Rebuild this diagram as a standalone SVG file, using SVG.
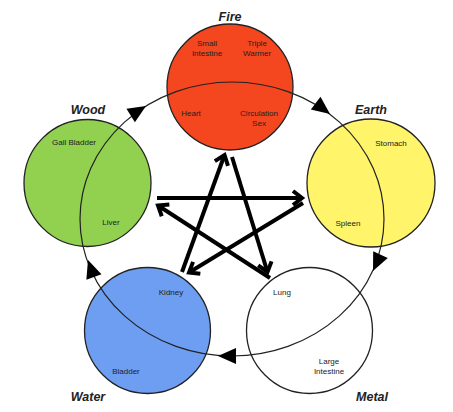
<svg xmlns="http://www.w3.org/2000/svg" width="453" height="412" viewBox="0 0 453 412">
<defs>
<style>
.node{stroke:#222;stroke-width:1.3}
.t{font-family:"Liberation Sans",Arial,sans-serif;font-size:8px;fill:#222;text-anchor:middle}
.e{font-family:"Liberation Sans",Arial,sans-serif;font-size:12.5px;font-weight:bold;font-style:italic;fill:#222;text-anchor:middle}
.star{stroke:#000;stroke-width:4;fill:none}
.cycle{stroke:#222;stroke-width:1.2;fill:none}
.head{fill:#000}
</style>
<marker id="chev" markerUnits="userSpaceOnUse" markerWidth="30" markerHeight="30" refX="0" refY="0" viewBox="-15 -15 30 30" orient="auto" overflow="visible">
<path d="M-9,-7 L0,0 L-9,7" stroke="#000" stroke-width="4" fill="none" stroke-linejoin="miter"/>
</marker>
</defs>
<rect width="453" height="412" fill="#fff"/>

<g id="fire">
<circle class="node" cx="230" cy="87" r="63" fill="#F4471F"/>
<text class="e" x="230" y="20.5">Fire</text>
<text class="t" x="207" y="46">Small</text>
<text class="t" x="207" y="56">Intestine</text>
<text class="t" x="257" y="46">Triple</text>
<text class="t" x="257" y="56">Warmer</text>
<text class="t" x="191" y="116">Heart</text>
<text class="t" x="259" y="116">Circulation</text>
<text class="t" x="259" y="126">Sex</text>
</g>
<g id="wood">
<circle class="node" cx="87.5" cy="183" r="63.5" fill="#92D050"/>
<text class="e" x="88" y="113.5">Wood</text>
<text class="t" x="74" y="145">Gall Bladder</text>
<text class="t" x="111" y="225">Liver</text>
</g>
<g id="earth">
<circle class="node" cx="371" cy="183" r="64" fill="#FFF46A"/>
<text class="e" x="371" y="113.5">Earth</text>
<text class="t" x="391" y="146">Stomach</text>
<text class="t" x="348" y="226">Spleen</text>
</g>
<g id="water">
<circle class="node" cx="147.5" cy="330.5" r="63" fill="#6D9EF2"/>
<text class="e" x="88" y="400.5">Water</text>
<text class="t" x="171" y="295">Kidney</text>
<text class="t" x="126" y="374">Bladder</text>
</g>
<g id="metal">
<circle class="node" cx="309.5" cy="330.5" r="63" fill="#fff" stroke="#444"/>
<text class="e" x="372" y="400.5">Metal</text>
<text class="t" x="282" y="295">Lung</text>
<text class="t" x="329" y="364">Large</text>
<text class="t" x="329" y="374">Intestine</text>
</g>

<g id="connectors">
<ellipse class="cycle" cx="232" cy="219" rx="152" ry="137"/>
<polygon class="head" points="0,0 -18,-8 -18,8" transform="translate(146,106) rotate(-31.8)"/>
<polygon class="head" points="0,0 -18,-8 -18,8" transform="translate(330,114) rotate(37.2)"/>
<polygon class="head" points="0,0 -18,-8 -18,8" transform="translate(373,271) rotate(114.5)"/>
<polygon class="head" points="0,0 -18,-8 -18,8" transform="translate(218,356) rotate(180)"/>
<polygon class="head" points="0,0 -18,-8 -18,8" transform="translate(88,260) rotate(-109.2)"/>

<line class="star" x1="157" y1="198" x2="302" y2="198" marker-end="url(#chev)"/>
<line class="star" x1="303" y1="203" x2="189" y2="272.5" marker-end="url(#chev)"/>
<line class="star" x1="182" y1="272" x2="224.5" y2="155" marker-end="url(#chev)"/>
<line class="star" x1="232" y1="157" x2="267.5" y2="272" marker-end="url(#chev)"/>
<line class="star" x1="270" y1="278" x2="158" y2="205.5" marker-end="url(#chev)"/>
</g>
</svg>
